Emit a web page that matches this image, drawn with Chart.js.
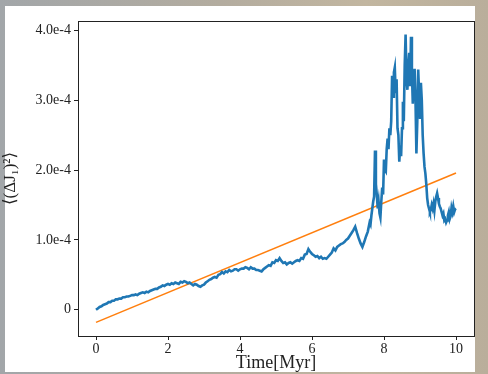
<!DOCTYPE html>
<html>
<head>
<meta charset="utf-8">
<script src="https://cdn.jsdelivr.net/npm/chart.js@4/dist/chart.umd.min.js"></script>
<style>
  html, body { margin: 0; padding: 0; }
  body {
    width: 488px; height: 374px; overflow: hidden; position: relative;
    background: linear-gradient(to right, #a2a6a9 0%, #b3ac9f 45%, #c2b6a0 75%, #b9ae9b 100%);
  }
  #card { position: absolute; left: 5px; top: 6px; width: 470px; height: 366px; background: #fff; }
  #myChart { position: absolute; left: 0; top: 0; }
</style>
</head>
<body>
<div id="card"></div>
<canvas id="myChart" width="488" height="374"></canvas>
<script>
// <(dJ1)^2> in units of 1e-4
// slow part: every 0.05 Myr from 0 to 7.55
const slowStart = 0;
const slowStep = 0.05;
const slowValues = [
    0.00, 0.02, 0.04, 0.05, 0.07, 0.08, 0.09, 0.11, 0.11, 0.13,
    0.13, 0.15, 0.15, 0.16, 0.16, 0.18, 0.18, 0.19, 0.19, 0.20,
    0.21, 0.21, 0.22, 0.21, 0.23, 0.24, 0.25, 0.24, 0.26, 0.25,
    0.27, 0.28, 0.29, 0.30, 0.30, 0.32, 0.33, 0.35, 0.34, 0.36,
    0.37, 0.36, 0.38, 0.37, 0.39, 0.38, 0.37, 0.40, 0.39, 0.41,
    0.40, 0.38, 0.39, 0.37, 0.35, 0.37, 0.36, 0.34, 0.33, 0.35,
    0.36, 0.39, 0.41, 0.43, 0.44, 0.46, 0.47, 0.46, 0.50, 0.51,
    0.54, 0.52, 0.55, 0.54, 0.57, 0.55, 0.56, 0.58, 0.58, 0.56,
    0.58, 0.59, 0.59, 0.61, 0.60, 0.58, 0.61, 0.59, 0.59, 0.57,
    0.57, 0.56, 0.55, 0.58, 0.60, 0.62, 0.64, 0.63, 0.68, 0.67,
    0.71, 0.70, 0.74, 0.70, 0.67, 0.68, 0.65, 0.67, 0.68, 0.66,
    0.68, 0.70, 0.71, 0.70, 0.74, 0.73, 0.79, 0.80, 0.87, 0.83,
    0.80, 0.78, 0.76, 0.77, 0.74, 0.76, 0.73, 0.74, 0.73, 0.76,
    0.79, 0.82, 0.88, 0.85, 0.90, 0.92, 0.94, 0.95, 0.97, 1.00,
    1.02, 1.06, 1.10, 1.14, 1.19, 1.10, 1.02, 0.95, 0.90, 0.97,
    1.05, 1.12
];
// burst part: every 0.025 Myr from 7.6 to 10
const burstStart = 7.6;
const burstStep = 0.025;
const burstValues = [
    1.25, 1.22, 1.35, 1.45, 1.55, 1.62, 2.28, 1.80, 1.65, 1.45,
    1.55, 1.38, 1.32, 1.55, 1.75, 1.65, 2.15, 2.00, 1.98, 2.30,
    2.45, 2.30, 2.60, 2.50, 2.70, 3.35, 3.05, 3.40, 3.47, 3.10,
    3.30, 2.60, 2.50, 2.12, 2.35, 2.20, 2.60, 2.98, 2.70, 3.50,
    3.94, 3.30, 3.15, 3.50, 3.68, 3.20, 3.91, 3.40, 2.95, 3.30,
    3.45, 3.00, 2.24, 2.70, 3.44, 3.10, 2.75, 3.25, 3.00, 2.50,
    2.24, 2.05, 1.95, 1.80, 1.60, 1.50, 1.45, 1.40, 1.43, 1.50,
    1.45, 1.52, 1.42, 1.55, 1.62, 1.67, 1.60, 1.52, 1.48, 1.45,
    1.40, 1.35, 1.38, 1.28, 1.30, 1.25, 1.28, 1.35, 1.40, 1.30,
    1.34, 1.46, 1.40, 1.48, 1.40, 1.44, 1.45
];

// straight fit line, end points (Myr, 1e-4)
const fitTime = [0, 10];
const fitValues = [-0.18, 1.96];

const xTicks = [0, 2, 4, 6, 8, 10];
const yTicks = [0, 1, 2, 3, 4];
const yTickLabels = ['0', '1.0e-4', '2.0e-4', '3.0e-4', '4.0e-4'];

const blueData = [];
slowValues.forEach((v, i) => blueData.push({ x: slowStart + i * slowStep, y: v }));
burstValues.forEach((v, i) => blueData.push({ x: burstStart + i * burstStep, y: v }));
const orangeData = fitTime.map((t, i) => ({ x: t, y: fitValues[i] }));

const serif = "'Liberation Serif', 'DejaVu Serif', serif";

// matplotlib-like box round the plot
const frame = {
    id: 'frame',
    afterDraw(chart) {
        const { ctx, chartArea: a } = chart;
        ctx.save();
        ctx.strokeStyle = '#222';
        ctx.lineWidth = 1;
        ctx.strokeRect(Math.round(a.left) + 0.5, Math.round(a.top) + 0.5,
            Math.round(a.right - a.left), Math.round(a.bottom - a.top));
        ctx.restore();
    }
};

const ctx = document.getElementById('myChart').getContext('2d');
const myChart = new Chart(ctx, { //eslint-disable-line
    type: 'scatter',
    data: {
        datasets: [{
            data: blueData,
            showLine: true,
            borderColor: '#1f77b4',
            borderWidth: 2.6,
            pointRadius: 0,
            tension: 0
        },
        {
            data: orangeData,
            showLine: true,
            borderColor: '#ff7f0e',
            borderWidth: 1.6,
            pointRadius: 0
        }]
    },
    options: {
        responsive: false,
        animation: false,
        layout: { padding: { left: 0, right: 14, top: 21, bottom: 0 } },
        plugins: { legend: { display: false }, tooltip: { enabled: false } },
        scales: {
            x: {
                type: 'linear',
                min: -0.5,
                max: 10.5,
                afterBuildTicks: (s) => { s.ticks = xTicks.map(v => ({ value: v })); },
                afterFit: (s) => { s.height = 38; },
                grid: { drawOnChartArea: false, drawTicks: true, tickLength: 4, color: '#222' },
                border: { display: false },
                ticks: { color: '#222', padding: 1, font: { family: serif, size: 14 }, maxRotation: 0 },
                title: { display: true, text: 'Time[Myr]', color: '#222', padding: 0, font: { family: serif, size: 18 } }
            },
            y: {
                type: 'linear',
                min: -0.375,
                max: 4.135,
                afterBuildTicks: (s) => { s.ticks = yTicks.map(v => ({ value: v })); },
                afterFit: (s) => { s.width = 78; },
                grid: { drawOnChartArea: false, drawTicks: true, tickLength: 4, color: '#222' },
                border: { display: false },
                ticks: {
                    color: '#222', padding: 3, font: { family: serif, size: 14 },
                    callback: (v) => yTickLabels[yTicks.indexOf(v)]
                },
                title: { display: true, text: '⟨(ΔJ₁)²⟩', color: '#222', padding: 0, font: { family: serif, size: 17 } }
            }
        }
    },
    plugins: [frame]
});
</script>
</body>
</html>
